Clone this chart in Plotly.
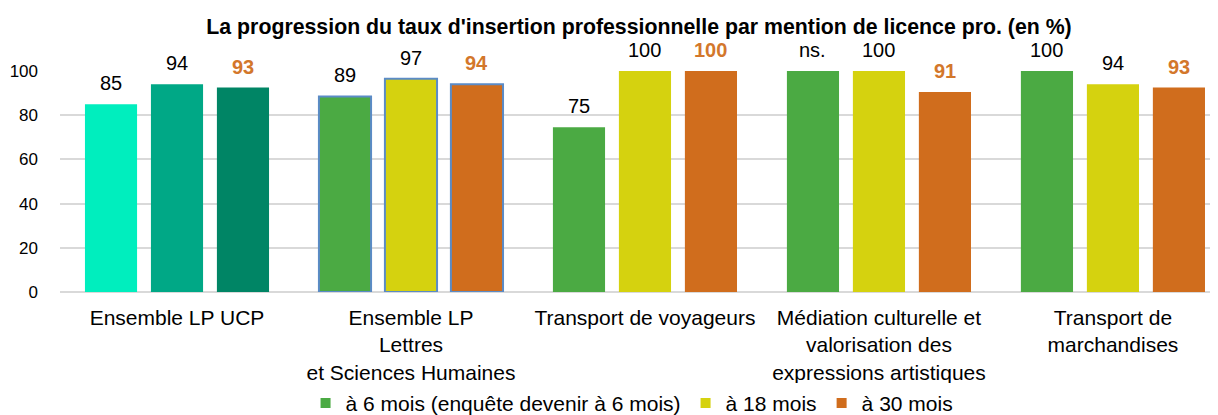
import plotly.graph_objects as go

categories = [
    "Ensemble LP UCP",
    "Ensemble LP<br>Lettres<br>et Sciences Humaines",
    "Transport de voyageurs",
    "Médiation culturelle et<br>valorisation des<br>expressions artistiques",
    "Transport de<br>marchandises",
]
series_names = ["à 6 mois (enquête devenir à 6 mois)", "à 18 mois", "à 30 mois"]
vals_6 = [85, 88.5, 74.5, 100, 100]
vals_18 = [94, 96.5, 100, 100, 94]
vals_30 = [92.5, 94, 100, 90.5, 92.5]
labels_6 = ["85", "89", "75", "ns.", "100"]
labels_18 = ["94", "97", "100", "100", "94"]
labels_30 = ["93", "94", "100", "91", "93"]
yticks = [0, 20, 40, 60, 80, 100]

FONT = "Liberation Sans"
green, yellow, orange = "#4BAA43", "#D5D20F", "#D06D1D"
teal = ["#00EEBE", "#00A886", "#008565"]
border = "#5B8BC6"

series = [vals_6, vals_18, vals_30]
labels = [labels_6, labels_18, labels_30]
base_colors = [green, yellow, orange]

x_idx = list(range(len(categories)))
fig = go.Figure()
for j in range(3):
    colors = [teal[j]] + [base_colors[j]] * 4
    lcolors = ["rgba(0,0,0,0)", border, "rgba(0,0,0,0)", "rgba(0,0,0,0)", "rgba(0,0,0,0)"]
    lwidths = [0, 2, 0, 0, 0]
    fig.add_trace(go.Bar(
        x=x_idx, y=series[j], name=series_names[j], showlegend=False,
        marker=dict(color=colors, line=dict(color=lcolors, width=lwidths)),
        hoverinfo="skip",
    ))

# legend entries with the base colours
for j in range(3):
    fig.add_trace(go.Scatter(
        x=[None], y=[None], mode="markers", name=series_names[j],
        marker=dict(symbol="square", size=10, color=base_colors[j]),
        showlegend=True,
    ))

bargap = 0.154
slot = (1 - bargap) / 3
annotations = []
for j in range(3):
    for i, (v, t) in enumerate(zip(series[j], labels[j])):
        annotations.append(dict(
            x=i + (j - 1) * slot, y=v, xref="x", yref="y",
            text=f"<b>{t}</b>" if j == 2 else t,
            showarrow=False, yanchor="middle", yshift=21,
            font=dict(family=FONT, size=20, color="#D3772B" if j == 2 else "#000000"),
        ))

fig.update_layout(
    width=1210, height=407,
    margin=dict(l=52, r=0, t=63, b=123, autoexpand=False),
    paper_bgcolor="white", plot_bgcolor="white",
    font=dict(family=FONT, color="#000000"),
    barmode="group", bargap=bargap, bargroupgap=0.21,
    title=dict(
        text="<b>La progression du taux d'insertion professionnelle par mention de licence pro. (en %)</b>",
        x=0.5, xref="paper", xanchor="center", y=0.955, yref="container", yanchor="middle",
        font=dict(family=FONT, size=21.3, color="#000000"),
    ),
    xaxis=dict(
        tickmode="array", tickvals=x_idx, ticktext=categories,
        range=[-0.5, 4.449], showgrid=False, zeroline=False, showline=False,
        tickfont=dict(family=FONT, size=21, color="#000000"), ticks="",
        ticklabelstandoff=11, automargin=False,
    ),
    yaxis=dict(
        range=[0, 100], tickvals=yticks, showgrid=True, gridcolor="#D9D9D9", gridwidth=2,
        zeroline=True, zerolinecolor="#D9D9D9", zerolinewidth=2, showline=False,
        tickfont=dict(family=FONT, size=17, color="#000000"), ticks="",
        ticklabelstandoff=21, automargin=False,
    ),
    legend=dict(
        orientation="h", x=0.494, xanchor="center", y=-0.504, yanchor="middle",
        font=dict(family=FONT, size=21, color="#000000"), traceorder="normal",
    ),
    annotations=annotations,
)
fig.write_html("out.html")
